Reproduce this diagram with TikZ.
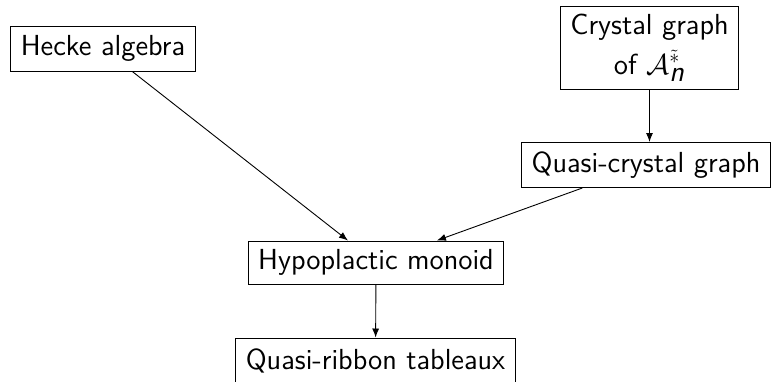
\documentclass[tikz,border=0pt]{standalone}
\usetikzlibrary{arrows.meta}
\begin{document}
\begin{tikzpicture}[x=0.5pt,y=-0.5pt,
  box/.style={draw, line width=0.5pt, font=\sffamily\fontsize{14.5}{19}\selectfont, inner xsep=5pt, inner ysep=0pt, minimum height=22.5pt, align=center},
  arr/.style={-{Latex[length=4.5pt,width=3.5pt]}, line width=0.45pt}]
\useasboundingbox (0,0) rectangle (774,381);
\node[box] (hecke) at (103,48.5) {Hecke algebra};
\node[box, minimum height=41.5pt] (crystal) at (649.5,47.5) {Crystal graph\\[1pt]of $\mathcal{A}_{\textsf{\textit{n}}}^{\tilde{*}}$};
\node[box] (qc) at (646,165) {Quasi-crystal graph};
\node[box, minimum height=21.5pt] (hypo) at (376,262.5) {Hypoplactic monoid};
\node[box] (ribbon) at (375.5,360.5) {Quasi-ribbon tableaux};
\draw[arr] (hecke) -- (hypo);
\draw[arr] (qc) -- (hypo);
\draw[arr] (crystal.south) -- (crystal.south |- qc.north);
\draw[arr] (hypo) -- (ribbon);
\end{tikzpicture}
\end{document}
